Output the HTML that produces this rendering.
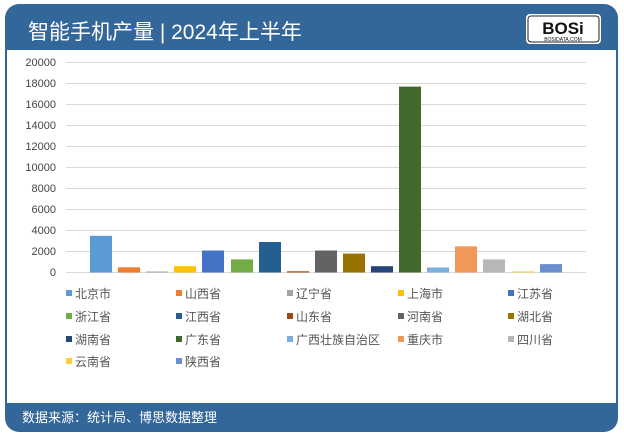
<!DOCTYPE html>
<html><head><meta charset="utf-8"><style>
body{margin:0;width:624px;height:435px;background:#fff;overflow:hidden;font-family:"Liberation Sans","Noto Sans CJK SC",sans-serif}
</style></head><body>
<svg width="624" height="435" xmlns="http://www.w3.org/2000/svg" font-family="Liberation Sans, Noto Sans CJK SC, sans-serif">
<rect x="5" y="4" width="613" height="428" rx="14" fill="#336699"/>
<rect x="7" y="50" width="609" height="353" fill="#fff"/>
<text x="28" y="39" font-size="21" fill="#fff">智能手机产量 | 2024年上半年</text>
<rect x="526" y="14" width="75" height="30" rx="4" fill="#fff"/>
<rect x="528" y="16" width="71" height="26" rx="3" fill="#fff" stroke="#222" stroke-width="1"/>
<text x="563" y="34" font-size="17" font-weight="bold" text-anchor="middle" fill="#111">BOSi</text>
<text x="563" y="41" font-size="5" text-anchor="middle" fill="#111">BOSIDATA.COM</text>
<g font-size="11" fill="#444" text-anchor="end">
<text x="56" y="66">20000</text><text x="56" y="87">18000</text><text x="56" y="108">16000</text><text x="56" y="129">14000</text><text x="56" y="150">12000</text><text x="56" y="171">10000</text><text x="56" y="192">8000</text><text x="56" y="213">6000</text><text x="56" y="234">4000</text><text x="56" y="255">2000</text><text x="56" y="276">0</text>
</g>
<g stroke="#d9d9d9" stroke-width="1">
<line x1="66" x2="586" y1="62.5" y2="62.5"/><line x1="66" x2="586" y1="83.5" y2="83.5"/><line x1="66" x2="586" y1="104.5" y2="104.5"/><line x1="66" x2="586" y1="125.5" y2="125.5"/><line x1="66" x2="586" y1="146.5" y2="146.5"/><line x1="66" x2="586" y1="167.5" y2="167.5"/><line x1="66" x2="586" y1="188.5" y2="188.5"/><line x1="66" x2="586" y1="209.5" y2="209.5"/><line x1="66" x2="586" y1="230.5" y2="230.5"/><line x1="66" x2="586" y1="251.5" y2="251.5"/><line x1="66" x2="586" y1="272.5" y2="272.5"/>
</g>
<g>
<rect x="90" y="235.8" width="22" height="36.7" fill="#5B9BD5"/>
<rect x="118" y="267.3" width="22" height="5.2" fill="#ED7D31"/>
<rect x="146" y="271.5" width="22" height="1" fill="#A5A5A5"/>
<rect x="174" y="266.2" width="22" height="6.3" fill="#FFC000"/>
<rect x="202" y="250.5" width="22" height="22" fill="#4472C4"/>
<rect x="231" y="259.4" width="22" height="13.1" fill="#70AD47"/>
<rect x="259" y="242" width="22" height="30.5" fill="#255E91"/>
<rect x="287" y="271.3" width="22" height="1.2" fill="#9E480E"/>
<rect x="315" y="250.5" width="22" height="22" fill="#636363"/>
<rect x="343" y="253.6" width="22" height="18.9" fill="#997300"/>
<rect x="371" y="266.2" width="22" height="6.3" fill="#264478"/>
<rect x="399" y="86.6" width="22" height="185.9" fill="#43682B"/>
<rect x="427" y="267.5" width="22" height="5" fill="#7CAFDD"/>
<rect x="455" y="246.3" width="22" height="26.2" fill="#F1975A"/>
<rect x="483" y="259.4" width="22" height="13.1" fill="#B7B7B7"/>
<rect x="512" y="271.4" width="22" height="1.1" fill="#FFCD33"/>
<rect x="540" y="264.1" width="22" height="8.4" fill="#698ED0"/>
</g>
<g font-size="12" fill="#555">
<rect x="66" y="290" width="6" height="6" fill="#5B9BD5"/><text x="75" y="298">北京市</text>
<rect x="176" y="290" width="6" height="6" fill="#ED7D31"/><text x="185" y="298">山西省</text>
<rect x="287" y="290" width="6" height="6" fill="#A5A5A5"/><text x="296" y="298">辽宁省</text>
<rect x="398" y="290" width="6" height="6" fill="#FFC000"/><text x="407" y="298">上海市</text>
<rect x="508" y="290" width="6" height="6" fill="#4472C4"/><text x="517" y="298">江苏省</text>
<rect x="66" y="313" width="6" height="6" fill="#70AD47"/><text x="75" y="321">浙江省</text>
<rect x="176" y="313" width="6" height="6" fill="#255E91"/><text x="185" y="321">江西省</text>
<rect x="287" y="313" width="6" height="6" fill="#9E480E"/><text x="296" y="321">山东省</text>
<rect x="398" y="313" width="6" height="6" fill="#636363"/><text x="407" y="321">河南省</text>
<rect x="508" y="313" width="6" height="6" fill="#997300"/><text x="517" y="321">湖北省</text>
<rect x="66" y="336" width="6" height="6" fill="#264478"/><text x="75" y="344">湖南省</text>
<rect x="176" y="336" width="6" height="6" fill="#43682B"/><text x="185" y="344">广东省</text>
<rect x="287" y="336" width="6" height="6" fill="#7CAFDD"/><text x="296" y="344">广西壮族自治区</text>
<rect x="398" y="336" width="6" height="6" fill="#F1975A"/><text x="407" y="344">重庆市</text>
<rect x="508" y="336" width="6" height="6" fill="#B7B7B7"/><text x="517" y="344">四川省</text>
<rect x="66" y="358" width="6" height="6" fill="#FFCD33"/><text x="75" y="366">云南省</text>
<rect x="176" y="358" width="6" height="6" fill="#698ED0"/><text x="185" y="366">陕西省</text>
</g>
<text x="22" y="422" font-size="13" fill="#fff">数据来源：统计局、博思数据整理</text>
</svg>
</body></html>
